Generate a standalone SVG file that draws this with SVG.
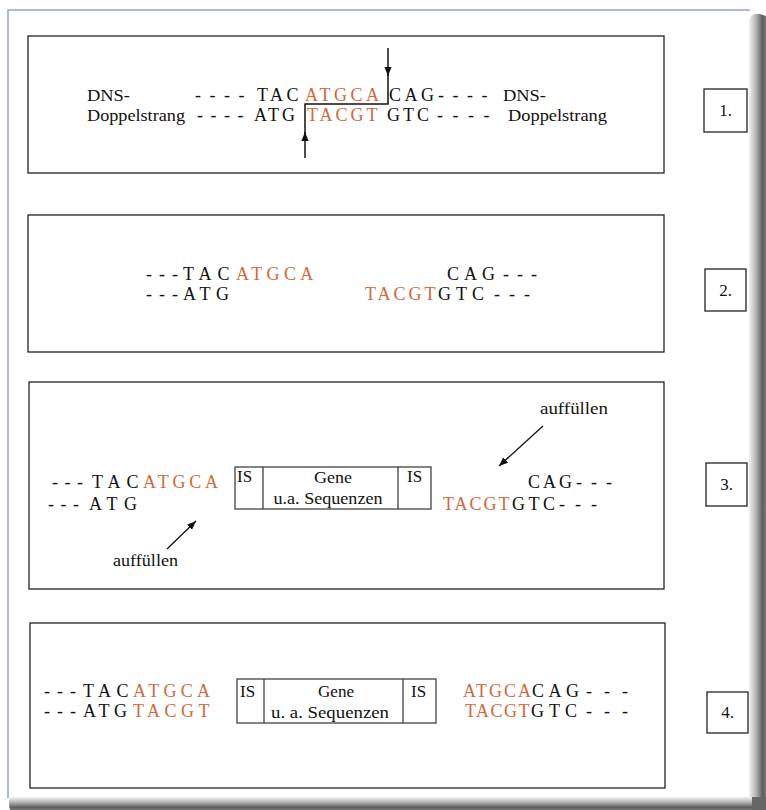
<svg xmlns="http://www.w3.org/2000/svg" width="766" height="810" viewBox="0 0 766 810" font-family="'Liberation Serif', 'Times New Roman', serif">
<defs>
<style>
text{font-family:'Liberation Serif','Times New Roman',serif;fill:#111}
.t{font-size:17px}
.q{font-size:18px}
.r{fill:#d0693d}
.lab{font-size:17px;text-anchor:middle}
.box{fill:#fff;stroke:#222;stroke-width:1.3}
.isb{fill:#fff;stroke:#333;stroke-width:1.2}
.ln{fill:none;stroke:#111;stroke-width:1.5}
.ar{fill:none;stroke:#111;stroke-width:1.3}
</style>
<marker id="ah" viewBox="0 0 10 8" refX="10" refY="4" markerWidth="9" markerHeight="7.5" markerUnits="userSpaceOnUse" orient="auto"><path d="M0,0 L10,4 L0,8 z" fill="#111"/></marker>
<linearGradient id="shR" x1="0" y1="0" x2="1" y2="0">
<stop offset="0" stop-color="#f2f2f2"/><stop offset="0.4" stop-color="#b5b5b5"/><stop offset="0.8" stop-color="#5e5e5e"/><stop offset="1" stop-color="#7a7a7a"/>
</linearGradient>
<linearGradient id="shB" x1="0" y1="0" x2="0" y2="1">
<stop offset="0" stop-color="#f2f2f2"/><stop offset="0.4" stop-color="#b5b5b5"/><stop offset="0.8" stop-color="#5e5e5e"/><stop offset="1" stop-color="#7a7a7a"/>
</linearGradient>
</defs>
<rect x="0" y="0" width="766" height="810" fill="#fff"/>
<g id="page">
<path d="M749,22 Q750,12 760,14 L766,16 L766,810 L749,810 z" fill="url(#shR)"/>
<path d="M10,797 L766,797 L766,810 L10,810 Q8,803 10,797 z" fill="url(#shB)"/>
<path d="M752,797 L766,797 L766,810 L752,810 z" fill="#666"/>
<path d="M8,798 V10 H750" fill="none" stroke="#8ea2d8" stroke-width="1.5"/>
</g>

<g id="panel1">
<rect class="box" x="28" y="36" width="636" height="137"/>
<text class="t" x="87" y="101" textLength="43" lengthAdjust="spacingAndGlyphs">DNS-</text>
<text class="t" x="87" y="121" textLength="98" lengthAdjust="spacingAndGlyphs">Doppelstrang</text>
<text class="t" x="503" y="101" textLength="43" lengthAdjust="spacingAndGlyphs">DNS-</text>
<text class="t" x="508" y="121" textLength="99" lengthAdjust="spacingAndGlyphs">Doppelstrang</text>
<text class="q" y="101" letter-spacing="3.5"><tspan x="195" letter-spacing="2">- - - -</tspan><tspan x="257">TAC</tspan><tspan x="305" class="r">ATGCA</tspan><tspan x="389">CAG</tspan><tspan x="438" letter-spacing="2">- - - -</tspan></text>
<text class="q" y="121" letter-spacing="3"><tspan x="197" letter-spacing="1.5">- - - -</tspan><tspan x="254">ATG</tspan><tspan x="307" class="r">TACGT</tspan><tspan x="387">GTC</tspan><tspan x="437" letter-spacing="2.5">- - - -</tspan></text>
</g>

<g id="panel2">
<rect class="box" x="28" y="215" width="636" height="137"/>
<text class="q" y="280"><tspan x="146" letter-spacing="7">---</tspan><tspan x="183" letter-spacing="6">TAC</tspan><tspan x="236" letter-spacing="4.3" class="r">ATGCA</tspan></text>
<text class="q" y="280"><tspan x="447" letter-spacing="5">CAG</tspan><tspan x="503" letter-spacing="8">---</tspan></text>
<text class="q" y="300"><tspan x="146" letter-spacing="7">---</tspan><tspan x="183" letter-spacing="5.5">ATG</tspan></text>
<text class="q" y="300"><tspan x="365" letter-spacing="3" class="r">TACGT</tspan><tspan x="438" letter-spacing="5">GTC</tspan><tspan x="494" letter-spacing="9">---</tspan></text>
</g>

<g id="panel3">
<rect class="box" x="29" y="382" width="635" height="207"/>
<text class="q" y="488"><tspan x="52" letter-spacing="6.5">---</tspan><tspan x="92" letter-spacing="6">TAC</tspan><tspan x="143" letter-spacing="3.75" class="r">ATGCA</tspan></text>
<text class="q" y="510"><tspan x="48" letter-spacing="6.5">---</tspan><tspan x="89" letter-spacing="6.5">ATG</tspan></text>
<g id="insert3">
<rect class="isb" x="235" y="467" width="196" height="42"/>
<line class="isb" x1="263" y1="467" x2="263" y2="509"/>
<line class="isb" x1="398" y1="467" x2="398" y2="509"/>
<text class="t" x="237" y="482">IS</text>
<text class="t" x="407" y="482">IS</text>
<text class="t" x="333" y="483" text-anchor="middle" textLength="38" lengthAdjust="spacingAndGlyphs">Gene</text>
<text class="t" x="328" y="504" text-anchor="middle" textLength="109" lengthAdjust="spacingAndGlyphs">u.a. Sequenzen</text>
</g>
<text class="q" y="488"><tspan x="528" letter-spacing="3">CAG</tspan><tspan x="576" letter-spacing="9">---</tspan></text>
<text class="q" y="510"><tspan x="443" letter-spacing="2" class="r">TACGT</tspan><tspan x="512" letter-spacing="3.5">GTC</tspan><tspan x="559" letter-spacing="10">---</tspan></text>
<text class="t" x="540" y="414" textLength="68" lengthAdjust="spacingAndGlyphs">auffüllen</text>
<text class="t" x="113" y="566" textLength="65" lengthAdjust="spacingAndGlyphs">auffüllen</text>
</g>

<g id="panel4">
<rect class="box" x="30" y="623" width="635" height="165"/>
<text class="q" y="697"><tspan x="44" letter-spacing="7">---</tspan><tspan x="83" letter-spacing="5.5">TAC</tspan><tspan x="133" letter-spacing="4.25" class="r">ATGCA</tspan></text>
<text class="q" y="717"><tspan x="44" letter-spacing="7">---</tspan><tspan x="83" letter-spacing="4.5">ATG</tspan><tspan x="133" letter-spacing="4.5" class="r">TACGT</tspan></text>
<g id="insert4">
<rect class="isb" x="237" y="679" width="199" height="44"/>
<line class="isb" x1="264" y1="679" x2="264" y2="723"/>
<line class="isb" x1="403" y1="679" x2="403" y2="723"/>
<text class="t" x="240" y="697">IS</text>
<text class="t" x="411" y="697">IS</text>
<text class="t" x="336" y="697" text-anchor="middle" textLength="36" lengthAdjust="spacingAndGlyphs">Gene</text>
<text class="t" x="330" y="718" text-anchor="middle" textLength="118" lengthAdjust="spacingAndGlyphs">u. a. Sequenzen</text>
</g>
<text class="q" y="697"><tspan x="463" letter-spacing="2" class="r">ATGCA</tspan><tspan x="532" letter-spacing="4.5">CAG</tspan><tspan x="586" letter-spacing="12">---</tspan></text>
<text class="q" y="717"><tspan x="465" letter-spacing="1.5" class="r">TACGT</tspan><tspan x="531" letter-spacing="5">GTC</tspan><tspan x="586" letter-spacing="12">---</tspan></text>
</g>

<g id="label1"><rect class="box" x="704" y="89" width="43" height="43"/><text class="lab" x="725.5" y="116">1.</text></g>
<g id="label2"><rect class="box" x="705" y="269" width="41" height="42"/><text class="lab" x="725.5" y="296">2.</text></g>
<g id="label3"><rect class="box" x="706" y="463" width="41" height="43"/><text class="lab" x="726.5" y="490">3.</text></g>
<g id="label4"><rect class="box" x="707" y="692" width="41" height="41"/><text class="lab" x="727.5" y="718">4.</text></g>

<g id="connectors">
<line class="ln" x1="388" y1="48" x2="388" y2="76" marker-end="url(#ah)"/>
<path class="ln" d="M388,74 V104 H305 V135"/>
<line class="ln" x1="305" y1="158" x2="305" y2="132" marker-end="url(#ah)"/>
<line class="ar" x1="543" y1="426" x2="499" y2="466" marker-end="url(#ah)"/>
<line class="ar" x1="167" y1="549" x2="196" y2="521" marker-end="url(#ah)"/>
</g>
</svg>
